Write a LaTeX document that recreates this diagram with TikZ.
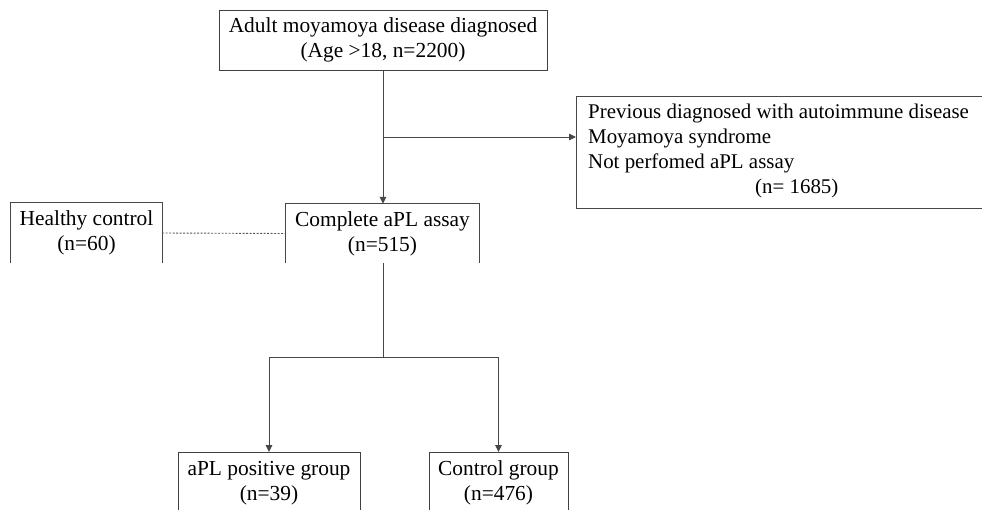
\documentclass[tikz,border=0pt]{standalone}
\usepackage{fontspec}
\setmainfont{Liberation Serif}
\usetikzlibrary{arrows.meta}
\begin{document}
\begin{tikzpicture}[x=1pt,y=-1pt,
  ln/.style={draw=black!72, line width=1pt},
  arr/.style={ln, -{Triangle[length=7pt,width=6.5pt]}},
  txt/.style={align=center, inner sep=0pt, font=\fontsize{21.4}{25}\selectfont},
  boxed/.style={txt, draw=black!75, line width=1pt},
  dotline/.style={draw=black!65, line width=0.9pt, dash pattern=on 2pt off 1.5pt},
  ]
\useasboundingbox (0,0) rectangle (982,509);
\clip (0,0) rectangle (982,509);
\fill[white] (0,0) rectangle (982,509);

% top box
\node[boxed, minimum width=328pt, minimum height=60pt] (top) at (383,40)
  {Adult moyamoya disease diagnosed\\(Age >18, n=2200)};

% exclusion box (open to the right edge)
\coordinate (exTL) at (576,96);
\coordinate (exBL) at (576,208);
\coordinate (exTR) at (995,96);
\coordinate (exBR) at (995,208);
\coordinate (exIn) at (576,137);
\draw[ln] (exTR) -- (exTL) -- (exBL) -- (exBR);
\node[txt, align=left, anchor=north west, font=\fontsize{20.9}{25}\selectfont] (excl) at (588,104)
  {Previous diagnosed with autoimmune disease\\
   Moyamoya syndrome\\
   Not perfomed aPL assay\\
   \hspace*{167pt}(n= 1685)};

% complete aPL assay (open bottom)
\node[txt, minimum width=193pt, minimum height=59pt] (comp) at (382.5,233.5)
  {Complete aPL assay\\(n=515)};
\draw[ln] (comp.south west) -- (comp.north west) -- (comp.north east) -- (comp.south east);

% healthy control (open bottom)
\node[txt, minimum width=151pt, minimum height=60pt] (hc) at (86.5,233)
  {Healthy control\\(n=60)};
\draw[ln] (hc.south west) -- (hc.north west) -- (hc.north east) -- (hc.south east);

% bottom boxes
\node[boxed, minimum width=182pt, minimum height=61pt, anchor=north] (pos) at (269,452)
  {aPL positive group\\(n=39)};
\node[boxed, minimum width=139pt, minimum height=61pt, anchor=north] (ctl) at (498.5,452)
  {Control group\\(n=476)};

% connectors
\draw[arr] (top.south) -- (top.south |- comp.north);
\draw[arr] (top.south |- exIn) -- (exIn);
\draw[dotline] (hc.east) -- (comp.west);
\coordinate (split) at (383,357);
\draw[ln] (comp.south -| split) -- (split);
\draw[ln] (pos.north |- split) -- (ctl.north |- split);
\draw[arr] (pos.north |- split) -- (pos.north);
\draw[arr] (ctl.north |- split) -- (ctl.north);
\end{tikzpicture}
\end{document}
